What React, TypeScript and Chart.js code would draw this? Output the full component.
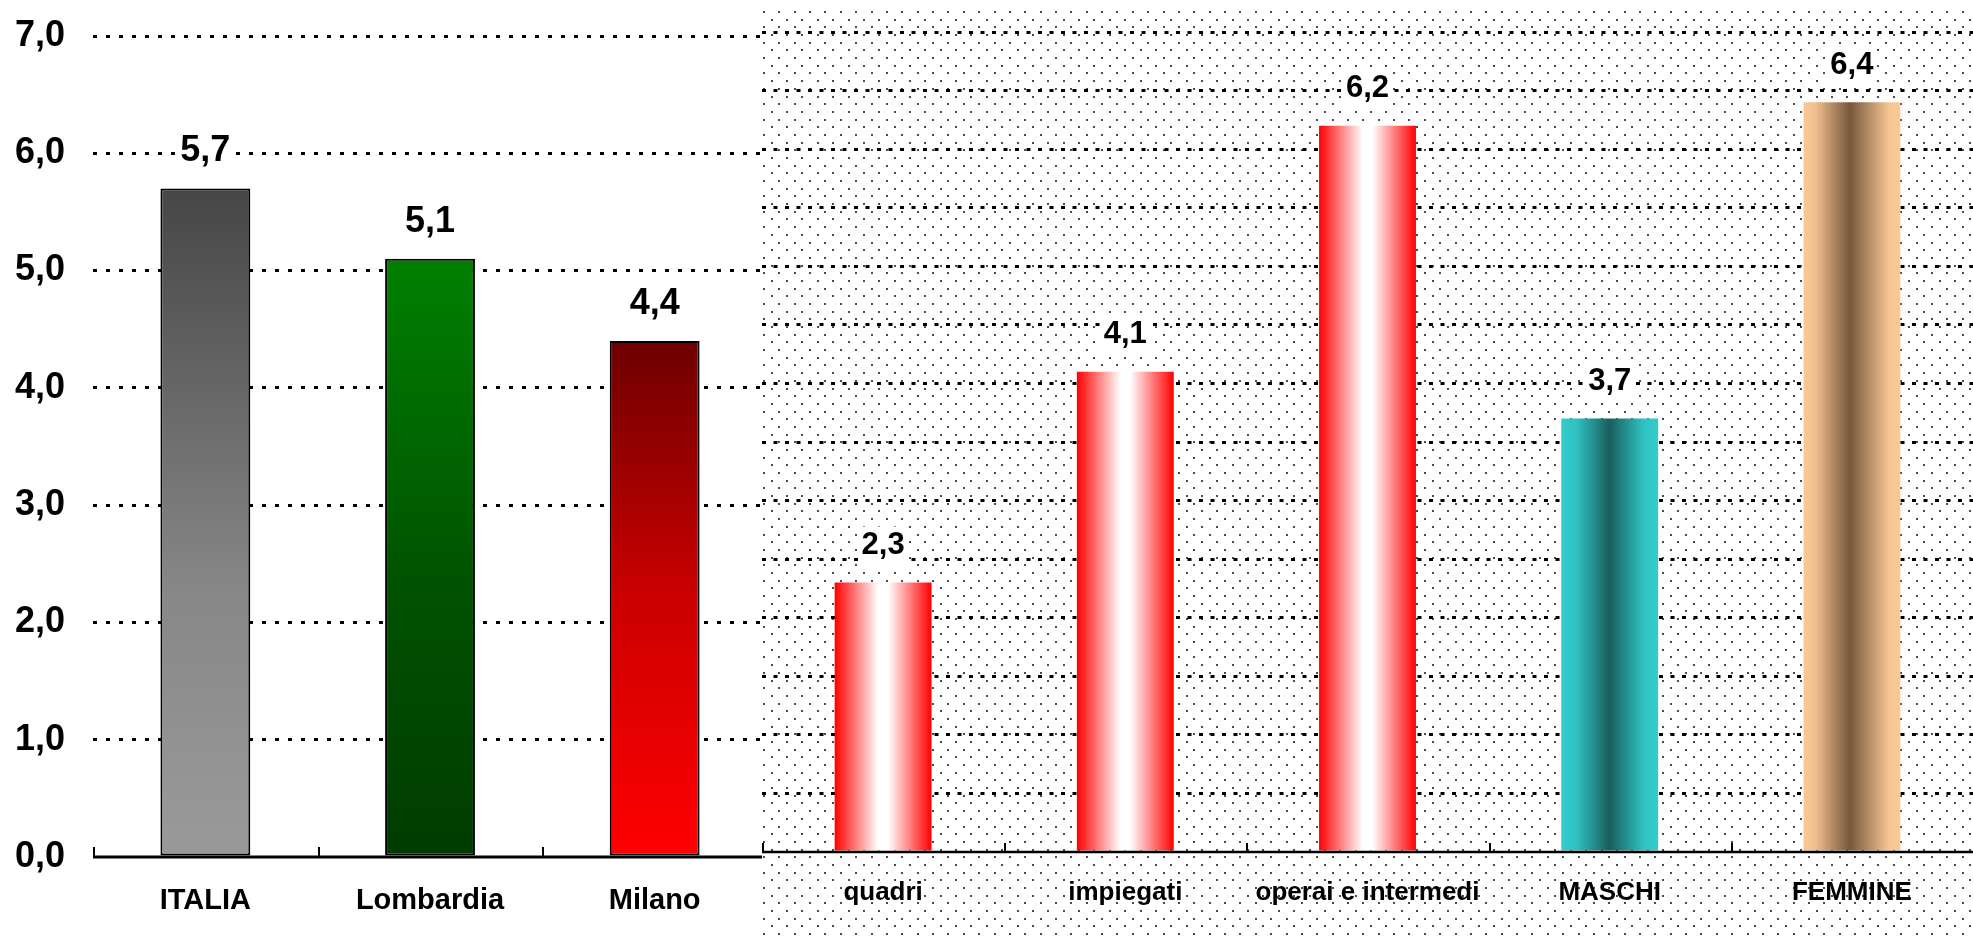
import React, { useEffect, useRef } from 'react';
import { Chart, registerables } from 'chart.js';

Chart.register(...registerables);

// ---------- data ----------
const leftCategories = ['ITALIA', 'Lombardia', 'Milano'];
const leftValues = [5.7, 5.1, 4.4];
const rightCategories = ['quadri', 'impiegati', 'operai e intermedi', 'MASCHI', 'FEMMINE'];
const rightValues = [2.3, 4.1, 6.2, 3.7, 6.4];
const yTickLabels = ['0,0', '1,0', '2,0', '3,0', '4,0', '5,0', '6,0', '7,0'];
const yMin = 0;
const yMax = 7;

// ---------- styles ----------
const FONT = '"Liberation Sans", Arial, sans-serif';
const CANVAS_H = 1000; // clipped to 938 by the container
type Stops = [number, string][];
const leftStops: Stops[] = [
  [[0, '#464646'], [0.6, '#878787'], [1, '#9A9A9A']],
  [[0, '#008000'], [0.55, '#005200'], [1, '#003C00']],
  [[0, '#6E0000'], [0.5, '#CC0000'], [1, '#FF0000']],
];
const redStops: Stops = [[0, '#FF0000'], [0.45, '#FFFFFF'], [0.55, '#FFFFFF'], [1, '#FF0000']];
const rightStops: Stops[] = [
  redStops,
  redStops,
  redStops,
  [[0, '#33CCCC'], [0.15, '#30C2C2'], [0.5, '#1A5E5E'], [0.85, '#30C2C2'], [1, '#33CCCC']],
  [[0, '#FAC998'], [0.12, '#F2C090'], [0.48, '#76573B'], [0.88, '#F5C593'], [1, '#FAC998']],
];

const fmt = (v: number) => v.toFixed(1).replace('.', ',');

function vGrad(stopsArr: Stops[]) {
  return (c: any) => {
    const stops = stopsArr[c.dataIndex ?? 0] || stopsArr[0];
    const chart = c.chart;
    const ys = chart.scales?.y;
    if (c.type !== 'data' || !ys || !chart.chartArea) return stops[0][1];
    const top = ys.getPixelForValue(c.raw);
    const bottom = ys.getPixelForValue(0);
    const g = chart.ctx.createLinearGradient(0, top, 0, bottom);
    stops.forEach(([o, col]) => g.addColorStop(o, col));
    return g;
  };
}

function hGrad(stopsArr: Stops[], barPct: number) {
  return (c: any) => {
    const stops = stopsArr[c.dataIndex ?? 0] || stopsArr[0];
    const chart = c.chart;
    const xs = chart.scales?.x;
    if (c.type !== 'data' || !xs || !chart.chartArea) return stops[0][1];
    const step = xs.getPixelForValue(1) - xs.getPixelForValue(0);
    const cx = xs.getPixelForValue(c.dataIndex);
    const w = step * barPct;
    const g = chart.ctx.createLinearGradient(cx - w / 2, 0, cx + w / 2, 0);
    stops.forEach(([o, col]) => g.addColorStop(o, col));
    return g;
  };
}

function labelPlugin(fontSize: number, offset: number, boxUp: number, boxDown: number) {
  return {
    id: 'valueLabels',
    afterDatasetsDraw(chart: any) {
      const ctx = chart.ctx;
      const meta = chart.getDatasetMeta(0);
      const data = chart.data.datasets[0].data as number[];
      ctx.save();
      ctx.font = `bold ${fontSize}px ${FONT}`;
      ctx.textAlign = 'center';
      ctx.textBaseline = 'middle';
      meta.data.forEach((el: any, i: number) => {
        const txt = fmt(data[i]);
        const w = ctx.measureText(txt).width;
        const cx = el.x;
        const cy = el.y - offset;
        ctx.fillStyle = '#FFFFFF';
        ctx.fillRect(cx - w / 2 - 3, cy - boxUp, w + 6, boxUp + boxDown);
        ctx.fillStyle = '#000000';
        ctx.fillText(txt, cx, cy);
      });
      ctx.restore();
    },
  };
}

function axisPlugin(lineWidth: number, tickLen: number) {
  return {
    id: 'axisLine',
    afterDatasetsDraw(chart: any) {
      const ctx = chart.ctx;
      const xs = chart.scales.x;
      const area = chart.chartArea;
      const n = chart.data.labels.length;
      const step = xs.getPixelForValue(1) - xs.getPixelForValue(0);
      const y = area.bottom;
      ctx.save();
      ctx.strokeStyle = '#000';
      ctx.lineWidth = lineWidth;
      ctx.beginPath();
      ctx.moveTo(area.left, y);
      ctx.lineTo(area.right, y);
      ctx.stroke();
      ctx.lineWidth = 2;
      for (let i = 0; i < n; i++) {
        const x = Math.round(xs.getPixelForValue(i) - step / 2) + 1;
        ctx.beginPath();
        ctx.moveTo(x, y);
        ctx.lineTo(x, y - tickLen);
        ctx.stroke();
      }
      ctx.restore();
    },
  };
}

const dotsPlugin = {
  id: 'dots',
  beforeDraw(chart: any) {
    const { ctx, width, height } = chart;
    ctx.save();
    ctx.fillStyle = '#FFFFFF';
    ctx.fillRect(0, 0, width, height);
    ctx.fillStyle = '#4a4a4a';
    const s = 7.684;
    let j = 0;
    for (let y = 11; y < height; y += s, j++) {
      for (let x = (j % 2) * s + 1; x < width; x += 2 * s) {
        ctx.fillRect(Math.round(x), Math.round(y), 2, 2);
      }
    }
    ctx.restore();
  },
};

function LeftChart() {
  const ref = useRef<HTMLCanvasElement>(null);
  useEffect(() => {
    if (!ref.current) return;
    const chart = new Chart(ref.current, {
      type: 'bar',
      data: {
        labels: leftCategories,
        datasets: [
          {
            data: leftValues,
            backgroundColor: vGrad(leftStops) as any,
            borderColor: '#000000',
            borderWidth: 2,
            borderSkipped: false,
            categoryPercentage: 1,
            barPercentage: 0.4,
          },
        ],
      },
      options: {
        responsive: false,
        animation: false,
        layout: { padding: { left: 15, top: 36, right: 1, bottom: 55 } },
        plugins: { legend: { display: false }, tooltip: { enabled: false } },
        scales: {
          x: {
            grid: { display: false, drawTicks: false },
            border: { display: false },
            ticks: {
              color: '#000',
              font: { family: FONT, size: 29, weight: 'bold' },
              padding: 26.6,
              maxRotation: 0,
              autoSkip: false,
            },
          },
          y: {
            min: yMin,
            max: yMax,
            grid: {
              color: (c: any) => (c.tick && c.tick.value === 0 ? 'rgba(0,0,0,0)' : '#000'),
              lineWidth: 3,
              drawTicks: false,
            },
            border: { display: false, dash: [4, 9] },
            ticks: {
              stepSize: 1,
              color: '#000',
              font: { family: FONT, size: 36, weight: 'bold' },
              padding: 14,
              crossAlign: 'far',
              callback: (_v: any, i: number) => yTickLabels[i],
            },
          },
        },
      },
      plugins: [axisPlugin(3, 10), labelPlugin(36, 37, 21, 23)],
    });
    return () => chart.destroy();
  }, []);
  return <canvas ref={ref} width={768} height={CANVAS_H} style={{ display: 'block' }} />;
}

function RightChart() {
  const ref = useRef<HTMLCanvasElement>(null);
  useEffect(() => {
    if (!ref.current) return;
    const chart = new Chart(ref.current, {
      type: 'bar',
      data: {
        labels: rightCategories,
        datasets: [
          {
            data: rightValues,
            backgroundColor: hGrad(rightStops, 0.4) as any,
            borderWidth: 0,
            categoryPercentage: 1,
            barPercentage: 0.4,
          },
        ],
      },
      options: {
        responsive: false,
        animation: false,
        layout: { padding: { left: 0, top: 32, right: 0, bottom: 66 } },
        plugins: { legend: { display: false }, tooltip: { enabled: false } },
        scales: {
          x: {
            grid: { display: false, drawTicks: false },
            border: { display: false },
            ticks: {
              color: '#000',
              font: { family: FONT, size: 26, weight: 'bold' },
              padding: 25.4,
              maxRotation: 0,
              autoSkip: false,
            },
          },
          y: {
            min: yMin,
            max: yMax,
            grid: {
              color: (c: any) => (c.tick && c.tick.value === 0 ? 'rgba(0,0,0,0)' : '#000'),
              lineWidth: 3,
              drawTicks: false,
            },
            border: { display: false, dash: [4, 7.5] },
            ticks: { display: false, stepSize: 0.5 },
          },
        },
      },
      plugins: [dotsPlugin, axisPlugin(2.5, 9), labelPlugin(31, 37, 19, 21)],
    });
    return () => chart.destroy();
  }, []);
  return <canvas ref={ref} width={1211} height={CANVAS_H} style={{ display: 'block' }} />;
}

export default function App() {
  return (
    <div style={{ position: 'absolute', left: 0, top: 0, width: 1973, height: 938, background: '#fff', overflow: 'hidden' }}>
      <div style={{ position: 'absolute', left: 0, top: 0 }}>
        <LeftChart />
      </div>
      <div style={{ position: 'absolute', left: 762, top: 0 }}>
        <RightChart />
      </div>
    </div>
  );
}
